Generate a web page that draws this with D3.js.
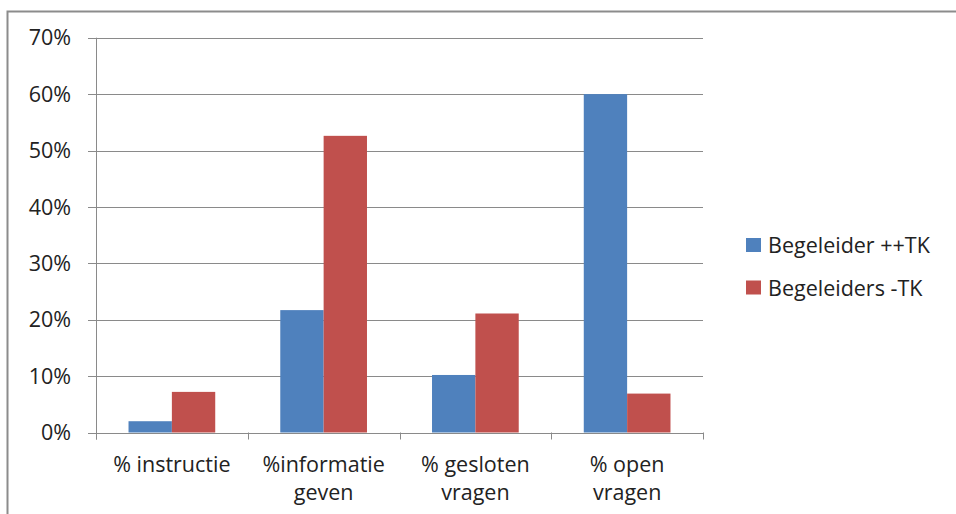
<!DOCTYPE html>
<html>
<head>
<meta charset="utf-8">
<script src="https://cdn.jsdelivr.net/npm/d3@7"></script>
<style>
  body { margin: 0; background: #fff; }
  text { font-family: "Open Sans", sans-serif; fill: #222; font-variant-ligatures: none; }
</style>
</head>
<body>
<svg id="chart" width="956" height="514"></svg>
<script>
// Data
const categories = ["% instructie", "%informatie geven", "% gesloten vragen", "% open vragen"];
const categoryLines = [["% instructie"], ["%informatie", "geven"], ["% gesloten", "vragen"], ["% open", "vragen"]];
const seriesNames = ["Begeleider ++TK", "Begeleiders -TK"];
const blueValues = [0.02, 0.217, 0.102, 0.60];
const redValues = [0.072, 0.526, 0.211, 0.069];
const yTicks = [0, 0.1, 0.2, 0.3, 0.4, 0.5, 0.6, 0.7];
const colors = ["#4F81BD", "#C0504D"];

const fontSize = "21.5px";
const svg = d3.select("#chart");

// outer frame (open at right and bottom, as in the reference)
svg.append("path")
   .attr("d", "M7.5,520 L7.5,11.5 L960,11.5")
   .attr("fill", "none")
   .attr("stroke", "#8c8c8c")
   .attr("stroke-width", 2);

const plot = { left: 96, right: 703, top: 37.7, bottom: 432.5 };

const xScale = d3.scaleBand()
                 .domain(categories)
                 .range([plot.left, plot.right])
                 .paddingInner(0)
                 .paddingOuter(0);

const yScale = d3.scaleLinear()
                 .domain([0, 0.7])
                 .range([plot.bottom, plot.top]);

// gridlines
svg.append("g")
   .selectAll("line")
   .data(yTicks)
   .join("line")
     .attr("x1", plot.left - 8)
     .attr("x2", plot.right)
     .attr("y1", d => Math.round(yScale(d)) + 0.5)
     .attr("y2", d => Math.round(yScale(d)) + 0.5)
     .attr("stroke", "#8a8a8a")
     .attr("stroke-width", 1);

// y axis labels
svg.append("g")
   .selectAll("text")
   .data(yTicks)
   .join("text")
     .attr("x", 71)
     .attr("y", d => yScale(d))
     .attr("dy", "0.36em")
     .attr("text-anchor", "end")
     .style("font-size", fontSize)
     .text(d => d3.format(".0%")(d));

// bars (gap width 150% of a bar, like the reference)
const series = [blueValues, redValues];
const barW = xScale.bandwidth() / (2 + 1.5);
series.forEach(function(values, s) {
  svg.append("g")
     .selectAll("rect")
     .data(values)
     .join("rect")
       .attr("x", (d, i) => xScale(categories[i]) + barW * 0.75 + s * barW)
       .attr("y", d => yScale(d))
       .attr("width", barW)
       .attr("height", d => yScale(0) - yScale(d))
       .attr("fill", colors[s]);
});

// axes lines
svg.append("line")
   .attr("x1", plot.left + 0.5).attr("x2", plot.left + 0.5)
   .attr("y1", plot.top).attr("y2", plot.bottom + 7)
   .attr("stroke", "#8a8a8a");
svg.append("line")
   .attr("x1", plot.left - 8).attr("x2", plot.right)
   .attr("y1", Math.round(plot.bottom) + 0.5).attr("y2", Math.round(plot.bottom) + 0.5)
   .attr("stroke", "#8a8a8a");

// category ticks
const catTicks = categories.map(c => xScale(c)).concat([plot.right]);
svg.append("g")
   .selectAll("line")
   .data(catTicks)
   .join("line")
     .attr("x1", d => Math.round(d) + 0.5)
     .attr("x2", d => Math.round(d) + 0.5)
     .attr("y1", plot.bottom)
     .attr("y2", plot.bottom + 7)
     .attr("stroke", "#8a8a8a");

// category labels
svg.append("g")
   .selectAll("text")
   .data(categories)
   .join("text")
     .attr("x", d => xScale(d) + xScale.bandwidth() / 2)
     .attr("y", 472)
     .attr("text-anchor", "middle")
     .style("font-size", fontSize)
     .each(function(d, i) {
       d3.select(this).selectAll("tspan")
         .data(categoryLines[i])
         .join("tspan")
           .attr("x", xScale(d) + xScale.bandwidth() / 2)
           .attr("dy", (t, j) => j === 0 ? 0 : 28)
           .text(t => t);
     });

// legend
const legend = svg.append("g");
seriesNames.forEach(function(name, i) {
  legend.append("rect")
        .attr("x", 746)
        .attr("y", 238 + i * 42.5)
        .attr("width", 15)
        .attr("height", 14)
        .attr("fill", colors[i]);
  legend.append("text")
        .attr("x", 768)
        .attr("y", 245 + i * 43)
        .attr("dy", "0.36em")
        .style("font-size", fontSize)
        .text(name);
});
</script>
</body>
</html>
